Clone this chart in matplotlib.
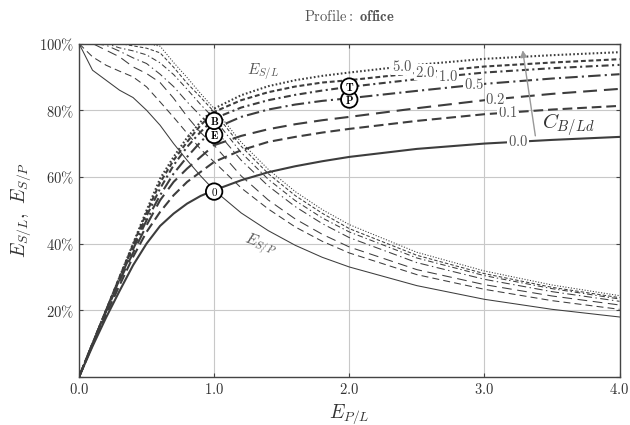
import numpy as np
import matplotlib
matplotlib.use('Agg')
import matplotlib.pyplot as plt
from matplotlib.ticker import FuncFormatter

plt.rcParams['mathtext.fontset'] = 'cm'
plt.rcParams['font.family'] = 'serif'
plt.rcParams['lines.scale_dashes'] = False

# PV-to-load ratio E_P/L
xs = [0, 0.1, 0.2, 0.3, 0.4, 0.5, 0.6, 0.7, 0.8, 0.9, 1.0,
      1.2, 1.4, 1.6, 1.8, 2.0, 2.5, 3.0, 3.5, 4.0]

# battery capacity C_B/Ld
caps = ['0.0', '0.1', '0.2', '0.5', '1.0', '2.0', '5.0']

# self-sufficiency E_S/L (%)
esl_00 = [0, 9.2, 17.8, 25.8, 33.5, 40.0, 45.3, 49.0, 52.0, 54.3, 56.0, 59.0, 61.4, 63.2, 64.7, 66.0, 68.4, 70.0, 71.1, 72.0]
esl_01 = [0, 9.6, 18.7, 27.5, 36.0, 43.5, 49.5, 54.5, 58.5, 61.5, 64.5, 68.0, 70.5, 72.0, 73.3, 74.4, 76.8, 78.8, 80.2, 81.3]
esl_02 = [0, 10.0, 19.6, 28.8, 37.2, 45.5, 53.0, 58.5, 62.5, 66.0, 69.5, 72.3, 74.3, 75.8, 77.0, 78.0, 80.6, 83.0, 84.9, 86.4]
esl_05 = [0, 10.0, 19.9, 29.3, 38.3, 47.0, 54.5, 61.0, 66.0, 70.5, 74.5, 78.0, 80.2, 81.7, 82.8, 83.6, 85.8, 87.9, 89.5, 90.8]
esl_10 = [0, 10.0, 20.0, 29.6, 39.1, 48.3, 56.5, 63.5, 69.0, 73.5, 77.5, 80.8, 83.0, 84.6, 85.9, 87.0, 89.3, 91.3, 92.6, 93.6]
esl_20 = [0, 10.0, 20.0, 30.0, 39.7, 49.3, 58.3, 65.0, 70.5, 75.5, 79.5, 83.0, 85.4, 87.1, 88.3, 89.0, 91.2, 93.1, 94.3, 95.3]
esl_50 = [0, 10.0, 20.0, 30.0, 40.0, 50.0, 59.5, 66.0, 71.8, 76.5, 80.5, 84.5, 87.2, 89.0, 90.3, 91.3, 93.6, 95.4, 96.5, 97.4]

# self-consumption E_S/P (%)
esp_00 = [100, 92.0, 89.0, 86.0, 83.8, 80.0, 75.5, 70.0, 65.0, 60.3, 56.0, 49.2, 43.9, 39.5, 35.9, 33.0, 27.4, 23.3, 20.3, 18.0]
esp_01 = [100, 96.0, 93.5, 91.7, 90.0, 87.0, 82.5, 77.9, 73.1, 68.3, 64.5, 56.7, 50.4, 45.0, 40.7, 37.2, 30.7, 26.3, 22.9, 20.3]
esp_02 = [100, 100, 98.0, 96.0, 93.0, 91.0, 88.3, 83.6, 78.1, 73.3, 69.5, 60.3, 53.1, 47.4, 42.8, 39.0, 32.2, 27.7, 24.3, 21.6]
esp_05 = [100, 100, 99.5, 97.7, 95.7, 94.0, 90.8, 87.1, 82.5, 78.3, 74.5, 65.0, 57.3, 51.1, 46.0, 41.8, 34.3, 29.3, 25.6, 22.7]
esp_10 = [100, 100, 100, 98.7, 97.8, 96.6, 94.2, 90.7, 86.3, 81.7, 77.5, 67.3, 59.3, 52.9, 47.7, 43.5, 35.7, 30.4, 26.5, 23.4]
esp_20 = [100, 100, 100, 100, 99.3, 98.6, 97.2, 92.9, 88.1, 83.9, 79.5, 69.2, 61.0, 54.4, 49.1, 44.5, 36.5, 31.0, 26.9, 23.8]
esp_50 = [100, 100, 100, 100, 100, 100, 99.2, 94.3, 89.8, 85.0, 80.5, 70.4, 62.3, 55.6, 50.2, 45.7, 37.4, 31.8, 27.6, 24.4]

esl = [esl_00, esl_01, esl_02, esl_05, esl_10, esl_20, esl_50]
esp = [esp_00, esp_01, esp_02, esp_05, esp_10, esp_20, esp_50]

# where the capacity labels sit on the E_S/L curves
label_x = [3.25, 3.17, 3.08, 2.92, 2.73, 2.56, 2.39]

# marked operating points
mark_names = ['0', 'E', 'B', 'P', 'T']
mark_x = [1.0, 1.0, 1.0, 2.0, 2.0]
mark_y = [55.6, 72.6, 76.8, 83.2, 87.1]

dashes = [None, (7, 3.5), (10, 5), (9, 3, 1.5, 3), (5, 2.5, 1.5, 2.5), (3.5, 2), (1.2, 1.6)]
thin_dashes = [None, (5, 3), (7, 4), (6, 2.5, 1, 2.5), (4, 2, 1, 2), (2.5, 1.5), (0.8, 1.2)]

line_col = '#3d3d3d'

fig = plt.figure(figsize=(6.3, 4.25), dpi=100)
ax = fig.add_axes([0.1254, 0.1129, 0.858, 0.7847])

for i in range(len(caps)):
    ls_thick = '-' if dashes[i] is None else (0, dashes[i])
    ls_thin = '-' if thin_dashes[i] is None else (0, thin_dashes[i])
    ax.plot(xs, esp[i], color=line_col, lw=0.75, linestyle=ls_thin, zorder=2)
    ax.plot(xs, esl[i], color=line_col, lw=1.5, linestyle=ls_thick, zorder=3)
    ly = np.interp(label_x[i], xs, esl[i])
    ax.text(label_x[i], ly, '$' + caps[i] + '$', fontsize=10.5, color='#555555',
            ha='center', va='center', zorder=4,
            bbox=dict(boxstyle='square,pad=0.05', fc='white', ec='none'))

for name, mx, my in zip(mark_names, mark_x, mark_y):
    ax.text(mx, my, r'$\mathbf{' + name + '}$', fontsize=8, color='black',
            ha='center', va='center', zorder=6,
            bbox=dict(boxstyle='circle,pad=0.2', fc='white', ec='black', lw=1.3))

ax.text(1.36, 91.5, r'$E_{S/L}$', fontsize=11, color='#555555', ha='center', va='center')
ax.text(1.34, 39.5, r'$E_{S/P}$', fontsize=11, color='#555555', ha='center', va='center',
        rotation=-20)

ax.annotate('', xy=(3.28, 98.8), xytext=(3.38, 71.5),
            arrowprops=dict(arrowstyle='-|>', color='#999999', lw=1.0, mutation_scale=10))
ax.text(3.62, 75.5, r'$C_{B/Ld}$', fontsize=15, color='#333333', ha='center', va='center')

ax.set_xlim(0, 4)
ax.set_ylim(0, 100)
ax.set_xticks([0, 1, 2, 3, 4])
ax.set_yticks([0, 20, 40, 60, 80, 100])
ax.xaxis.set_major_formatter(FuncFormatter(lambda v, p: '$%.1f$' % v))
ax.yaxis.set_major_formatter(FuncFormatter(lambda v, p: '' if v == 0 else r'$%d\%%$' % v))
ax.tick_params(direction='in', length=3, top=True, right=True, labelsize=10.5,
               colors='#444444', labelcolor='#333333')
ax.grid(True, color='#c8c8c8', lw=0.8)
ax.set_axisbelow(True)
for s in ax.spines.values():
    s.set_color('#444444')
    s.set_linewidth(1.0)

ax.set_xlabel(r'$E_{P/L}$', fontsize=14, color='#333333', labelpad=4)
ax.set_ylabel(r'$E_{S/L},\ E_{S/P}$', fontsize=14, color='#333333', labelpad=4)
ax.set_title(r'$\mathrm{Profile{:}}\ \mathbf{office}$', fontsize=10.5, color='#555555', pad=16)

fig.savefig('out.png', dpi=100)
